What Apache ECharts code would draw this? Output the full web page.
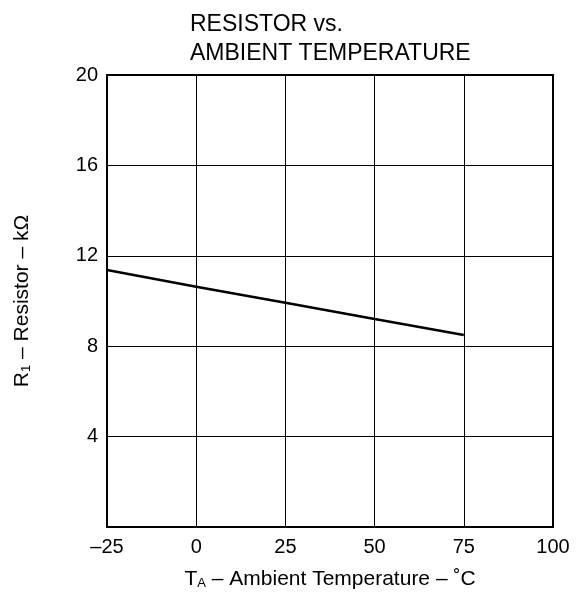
<!DOCTYPE html>
<html>
<head>
<meta charset="utf-8">
<script src="https://cdn.jsdelivr.net/npm/echarts@6/dist/echarts.min.js"></script>
<style>html,body{margin:0;padding:0;background:#fff;}#c{width:584px;height:596px;}</style>
</head>
<body>
<div id="c"></div>
<script>
const temperatures = [-25, 0, 25, 50, 75];
const resistance = [11.37, 10.63, 9.92, 9.2, 8.5];
const xTicks = [-25, 0, 25, 50, 75, 100];
const yTicks = [0, 4, 8, 12, 16, 20];

const chart = echarts.init(document.getElementById('c'));
const font = '"Liberation Sans", Arial, Helvetica, sans-serif';
chart.setOption({
  animation: false,
  backgroundColor: '#fff',
  title: {
    text: 'RESISTOR vs.\nAMBIENT TEMPERATURE',
    left: 185, top: 5,
    textStyle: { fontFamily: font, fontSize: 23, fontWeight: 'normal', color: '#000', lineHeight: 29 }
  },
  grid: { left: 107, right: 31, top: 75, bottom: 69, show: true, borderColor: '#000', borderWidth: 2, backgroundColor: 'transparent' },
  xAxis: {
    type: 'value', min: xTicks[0], max: xTicks[xTicks.length - 1], interval: 25,
    name: '{n|T}{s|A}{n| – Ambient Temperature – ˚C}',
    nameLocation: 'middle', nameGap: 42,
    nameTextStyle: { fontFamily: font, color: '#000', rich: {
      n: { fontFamily: font, fontSize: 21, color: '#000' },
      s: { fontFamily: font, fontSize: 13, color: '#000', verticalAlign: 'bottom', padding: [8, 0, 0, 0] }
    } },
    axisLine: { show: true, onZero: false, lineStyle: { color: '#000', width: 2 } },
    axisTick: { show: false },
    splitLine: { show: true, lineStyle: { color: '#000', width: 1 } },
    axisLabel: { fontFamily: font, fontSize: 20, color: '#000', margin: 10,
      formatter: v => String(v).replace('-', '–') }
  },
  yAxis: {
    type: 'value', min: yTicks[0], max: yTicks[yTicks.length - 1], interval: 4,
    name: '{n|R}{s|1}{n| – Resistor – kΩ}',
    nameLocation: 'middle', nameGap: 74, nameRotate: 90,
    nameTextStyle: { fontFamily: font, color: '#000', rich: {
      n: { fontFamily: font, fontSize: 21, color: '#000' },
      s: { fontFamily: font, fontSize: 13, color: '#000', verticalAlign: 'bottom', padding: [8, 0, 0, 0] }
    } },
    axisLine: { show: true, onZero: false, lineStyle: { color: '#000', width: 2 } },
    axisTick: { show: false },
    splitLine: { show: true, lineStyle: { color: '#000', width: 1 } },
    axisLabel: { fontFamily: font, fontSize: 20, color: '#000', margin: 9,
      formatter: v => v === 0 ? '' : String(v) }
  },
  series: [{
    type: 'line',
    data: temperatures.map((t, i) => [t, resistance[i]]),
    showSymbol: false,
    lineStyle: { color: '#000', width: 2.5 }
  }]
});
</script>
</body>
</html>
